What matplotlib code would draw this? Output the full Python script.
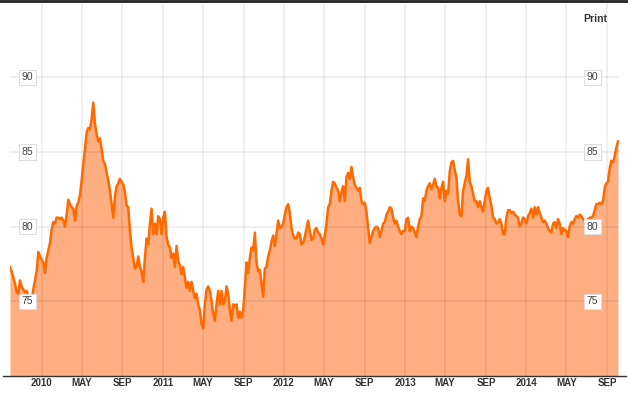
import numpy as np
import pandas as pd
import matplotlib
matplotlib.use("Agg")
import matplotlib.pyplot as plt
import matplotlib.transforms as mtransforms
from matplotlib.lines import Line2D

# values, evenly spaced in time
values = [
    77.3, 77.0, 76.6, 76.2, 75.6, 75.5, 76.4, 76.0, 75.8, 75.6,
    75.7, 75.3, 74.5, 75.1, 75.8, 76.4, 77.0, 78.3, 78.0, 77.8,
    77.6, 76.9, 77.9, 78.4, 78.9, 79.8, 80.3, 80.2, 80.6, 80.6,
    80.5, 80.6, 80.4, 80.0, 80.8, 81.8, 81.5, 81.3, 81.2, 80.4,
    81.4, 81.6, 82.1, 83.1, 84.2, 85.2, 86.3, 86.6, 86.5, 87.2,
    88.3, 86.9, 86.2, 85.7, 85.9, 85.2, 84.4,
    84.2, 83.6, 83.1, 82.4, 81.5, 80.6, 82.0, 82.7, 82.9, 83.2,
    83.0, 82.8, 82.3, 81.4, 81.3, 79.7, 78.6, 77.9, 77.2, 77.3,
    78.0, 77.3, 77.0, 76.3, 77.9, 79.2, 78.8, 80.2, 81.2, 79.5,
    80.2, 79.5, 80.7, 80.5, 79.5, 80.6, 81.0, 79.3, 78.8, 78.6,
    77.9, 78.2, 77.3, 78.7, 77.7, 77.4, 76.8, 77.3, 76.6, 75.9,
    76.3, 75.7, 76.3, 75.7, 75.2, 75.5, 74.8, 74.4, 73.5, 73.2,
    74.8, 75.8, 76.0, 75.7, 75.0, 74.2, 73.7, 74.8, 75.7, 74.8,
    75.7, 74.8, 75.0, 76.0, 75.5, 74.4, 73.7, 74.8, 74.6, 74.8,
    73.9, 74.3, 73.9, 74.4, 75.9, 77.6, 76.9, 77.9, 78.6, 78.4,
    79.6, 77.6, 77.0, 77.1, 76.2, 75.3, 77.2, 77.3, 78.0, 78.4,
    79.0, 79.4, 78.7, 79.5, 80.4, 79.9, 80.0, 80.2, 80.8, 81.3,
    81.5, 80.9, 79.9, 79.4, 79.2, 79.2, 79.6, 79.5, 78.8, 78.9,
    79.3, 79.9, 80.4, 79.7, 79.1, 79.2, 79.8, 79.9, 79.6, 79.5,
    79.2, 78.8, 79.4, 80.2, 81.3, 81.5, 82.4, 83.0, 82.9, 82.6,
    82.4, 81.7, 82.3, 82.7, 81.7, 83.3, 83.6, 83.2, 84.0, 83.3,
    82.8, 82.6, 82.4, 82.6, 81.7, 81.5, 81.6, 81.0, 79.9, 78.9,
    79.3, 79.7, 79.9, 80.0, 79.9, 79.3, 79.7, 80.2, 80.3, 80.8,
    81.0, 81.3, 81.2, 80.6, 80.2, 80.4, 80.0, 79.7, 79.5, 79.7,
    79.7, 80.5, 80.6, 79.7, 80.0, 79.9, 79.6, 79.3, 80.0, 80.5,
    80.7, 81.9, 81.7, 82.4, 82.7, 82.9, 82.5, 82.8, 83.2, 82.7,
    82.6, 81.9, 82.6, 83.0, 81.7, 82.4, 82.2, 83.7, 84.3, 84.4,
    83.8, 83.3, 81.7, 80.8, 80.7, 82.4, 82.9, 83.4, 84.5, 83.0,
    82.7, 82.2, 81.7, 81.7, 81.3, 81.7, 81.3, 81.0, 81.7, 82.4,
    82.6, 81.9, 81.4, 80.6, 80.5, 80.2, 80.3, 80.5, 80.2, 79.5,
    79.5, 80.6, 81.1, 81.1, 80.9, 81.0, 80.8, 80.7, 80.6, 80.0,
    80.2, 80.6, 80.5, 80.2, 80.7, 80.9, 81.2, 80.6, 81.3, 80.8,
    81.3, 80.9, 80.6, 80.3, 80.4, 80.2, 79.9, 79.7, 79.6, 80.2,
    80.3, 79.9, 80.5, 80.2, 79.5, 79.9, 79.8, 79.7, 79.3, 80.0,
    80.3, 80.2, 80.5, 80.7, 80.6, 80.8, 80.7, 80.5, 80.4, 80.4,
    80.5, 80.6, 80.6, 80.7, 81.1, 81.5, 81.5, 81.6, 81.5, 81.7,
    82.6, 82.9, 83.0, 83.9, 84.4, 84.3, 84.7, 85.3, 85.7,
]
start_date = "2009-09-27"
end_date = "2014-10-04"

tick_years = [2010, 2011, 2012, 2013, 2014]
tick_months = [(1, None), (5, "MAY"), (9, "SEP")]
y_ticks = [75, 80, 85, 90]

dates = pd.date_range(start_date, end_date, periods=len(values))

fig = plt.figure(figsize=(6.28, 3.93), dpi=100)
W, H = 628, 393
ax = fig.add_axes([10 / W, 17 / H, 610 / W, 375 / H])
ax.set_facecolor("white")

line_c = "#ff6a00"
fill_c = "#feae80"

ax.fill_between(dates, 70, values, color=fill_c, lw=0, zorder=1)

# grid drawn over the fill
tick_pos, tick_lab = [], []
for yr in tick_years:
    for m, lab in tick_months:
        tick_pos.append(pd.Timestamp(year=yr, month=m, day=1))
        tick_lab.append(str(yr) if lab is None else lab)
for t in tick_pos:
    ax.axvline(t, color="black", alpha=0.06, lw=1.4, zorder=2)
for yv in y_ticks:
    ax.plot([dates[0], dates[-1]], [yv, yv], color="black", alpha=0.06,
            lw=1.4, zorder=2, solid_capstyle="butt")

ax.plot(dates, values, color=line_c, lw=1.8, zorder=3)

x_end = dates[0] + (dates[-1] - dates[0]) * (610 / 608)
ax.set_xlim(dates[0], x_end)
ax.set_ylim(70, 95.1)
for s in ax.spines.values():
    s.set_visible(False)
ax.set_xticks([])
ax.set_yticks([])

# boxed y labels on both sides
trans = mtransforms.blended_transform_factory(ax.transAxes, ax.transData)
box = dict(boxstyle="square,pad=0.25", fc="white", ec="#dddddd", lw=0.8)
for yv in y_ticks:
    for xf in (0.0287, 0.955):
        ax.text(xf, yv, str(yv), transform=trans, ha="center", va="center",
                fontsize=7.5, color="#444444", family="Liberation Sans",
                bbox=box, zorder=5)

# x labels
xtrans = mtransforms.blended_transform_factory(ax.transData, ax.transAxes)
for t, lab in zip(tick_pos, tick_lab):
    ax.text(t, -0.019, lab, transform=xtrans, ha="center", va="center",
            fontsize=7, fontweight="bold", color="#333333",
            family="Liberation Sans")

# bottom axis line and top border
fig.add_artist(Line2D([3 / W, 626 / W], [17 / H, 17 / H], color="#333333", lw=1.0))
fig.add_artist(Line2D([0, 1], [392 / H, 392 / H], color="#222222", lw=2.0))

fig.text(595 / W, 1 - 19 / H, "Print", ha="center", va="center", fontsize=7.5,
         fontweight="bold", color="#333333", family="Liberation Sans")

fig.savefig("out.png", dpi=100)
